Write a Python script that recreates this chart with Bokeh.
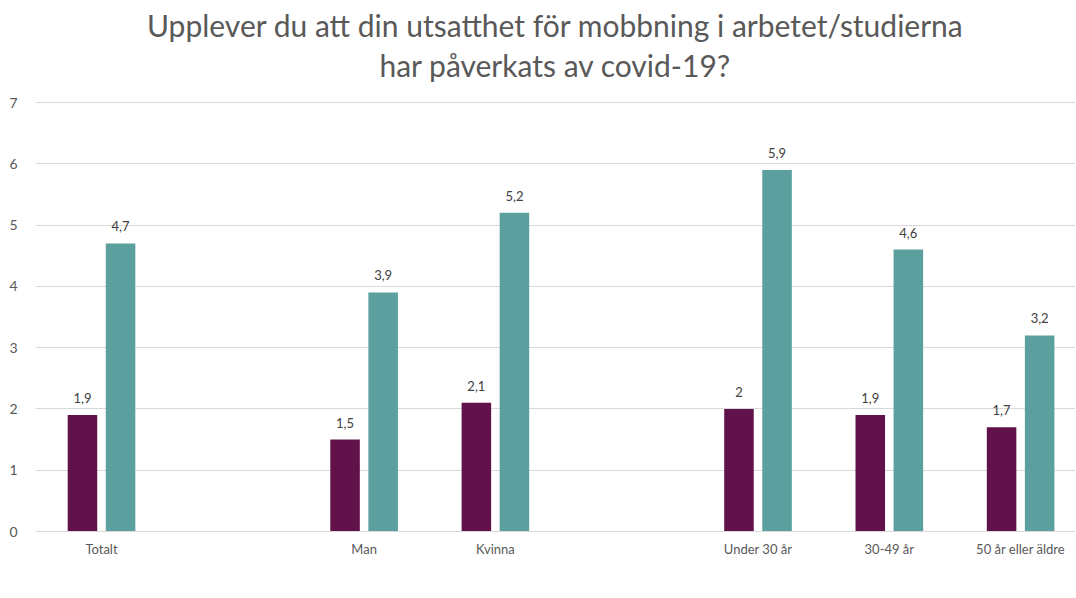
from bokeh.plotting import figure
from bokeh.models import (ColumnDataSource, LabelSet, Legend, LegendItem, Label,
                          FixedTicker, Range1d)
from bokeh.core.properties import value
from bokeh.embed import file_html
from bokeh.resources import INLINE

# ---- data ----
categories = ["Totalt", "", "Man", "Kvinna", "", "Under 30 år", "30-49 år", "50 år eller äldre"]
har_okat = [1.9, None, 1.5, 2.1, None, 2.0, 1.9, 1.7]
har_minskat = [4.7, None, 3.9, 5.2, None, 5.9, 4.6, 3.2]
series_names = ["har ökat", "har minskat"]
title_lines = ["Upplever du att din utsatthet för mobbning i arbetet/studierna",
               "har påverkats av covid-19?"]

FONT = "Lato"
PURPLE = "#62124b"
TEAL = "#5b9f9e"

def fmt(v):
    return f"{v:g}".replace(".", ",")

idx = [i for i, c in enumerate(categories) if c != ""]
off = 0.145
w = 0.225
src_a = ColumnDataSource(dict(x=[i - off for i in idx], top=[har_okat[i] for i in idx],
                              lab=[fmt(har_okat[i]) for i in idx]))
src_b = ColumnDataSource(dict(x=[i + off for i in idx], top=[har_minskat[i] for i in idx],
                              lab=[fmt(har_minskat[i]) for i in idx]))

# value axis: 0..7 occupies 429 px; the frame extends upward to hold the title
PX_PER_UNIT = 429 / 7
FRAME_H = 531
y_top = FRAME_H / PX_PER_UNIT
x0, x1 = -0.5027, 7.418

p = figure(frame_width=1040, frame_height=FRAME_H, x_range=Range1d(x0, x1), y_range=Range1d(0, y_top),
           output_backend="svg", toolbar_location=None,
           min_border_left=35, min_border_right=0, min_border_top=0, min_border_bottom=67)
p.outline_line_color = None
p.background_fill_color = "white"
p.border_fill_color = "white"

ra = p.vbar(x="x", top="top", width=w, source=src_a, fill_color=PURPLE, line_color=None)
rb = p.vbar(x="x", top="top", width=w, source=src_b, fill_color=TEAL, line_color=None)

for s in (src_a, src_b):
    p.add_layout(LabelSet(x="x", y="top", text="lab", source=s, text_align="center",
                          text_baseline="middle", y_offset=17, text_font=value(FONT),
                          text_font_size=value("13px"), text_color=value("#404040")))

# axes
p.xaxis.ticker = FixedTicker(ticks=idx)
p.xaxis.major_label_overrides = {i: categories[i] for i in idx}
p.xaxis.major_tick_line_color = None
p.xaxis.minor_tick_line_color = None
p.xaxis.axis_line_color = "#d9d9d9"
p.xaxis.major_label_text_font = FONT
p.xaxis.major_label_text_font_size = "13px"
p.xaxis.major_label_text_color = "#595959"
p.xaxis.major_label_standoff = 3

p.yaxis.ticker = FixedTicker(ticks=list(range(0, 8)))
p.yaxis.axis_line_color = None
p.yaxis.major_tick_line_color = None
p.yaxis.minor_tick_line_color = None
p.yaxis.major_label_text_font = FONT
p.yaxis.major_label_text_font_size = "14px"
p.yaxis.major_label_text_color = "#595959"
p.yaxis.major_label_standoff = 12

p.xgrid.grid_line_color = None
p.ygrid.grid_line_color = "#d9d9d9"
p.ygrid.grid_line_width = 1

# legend, placed under the axis labels
legend = Legend(items=[LegendItem(label=series_names[0], renderers=[ra]),
                       LegendItem(label=series_names[1], renderers=[rb])],
                orientation="horizontal", location=(435, -70),
                label_text_font=FONT, label_text_font_size="13px", label_text_color="#595959",
                glyph_width=10, glyph_height=10, spacing=30, label_standoff=5,
                border_line_color=None, background_fill_color=None, padding=0, margin=0)
p.add_layout(legend)

# title: two centred lines above the 7-gridline
xc = (x0 + x1) / 2
for k, line in enumerate(title_lines):
    p.add_layout(Label(x=xc, y=7 + (78 - 40 * k) / PX_PER_UNIT, text=line,
                       text_align="center", text_baseline="middle",
                       text_font=FONT, text_font_size="30px", text_color="#595959"))

open("out.html", "w").write(file_html(p, INLINE))
